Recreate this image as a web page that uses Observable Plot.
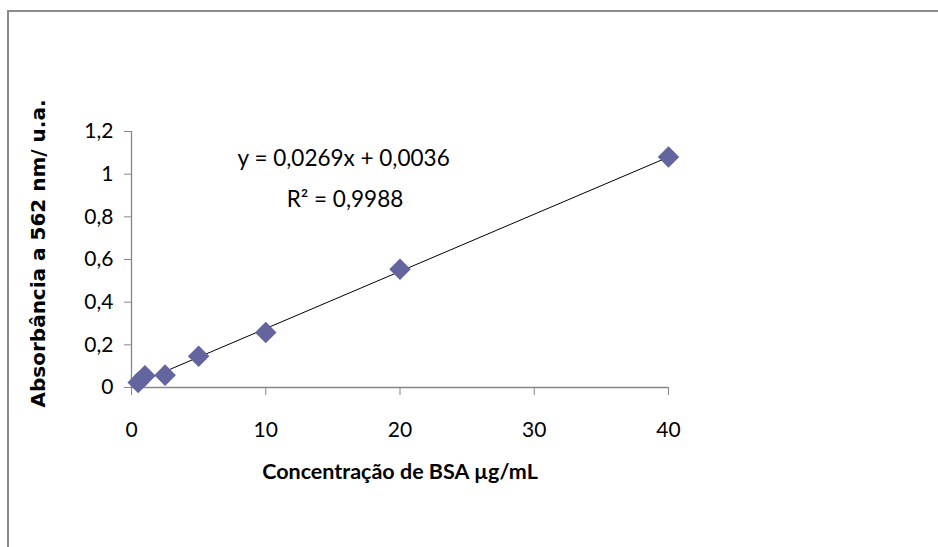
<!DOCTYPE html>
<html>
<head>
<meta charset="utf-8">
<script src="https://cdn.jsdelivr.net/npm/d3@7"></script>
<script src="https://cdn.jsdelivr.net/npm/@observablehq/plot@0.6"></script>
<style>
  html, body { margin: 0; padding: 0; background: #fff; }
  #wrap { position: relative; width: 938px; height: 547px; overflow: hidden; }
  #border { position: absolute; left: 7px; top: 10px; right: -5px; bottom: -5px;
            border-top: 2px solid #8c8c8c; border-left: 2px solid #8c8c8c; }
  #chart { position: absolute; left: 0; top: 0; }
</style>
</head>
<body>
<div id="wrap"><div id="border"></div><div id="chart"></div></div>
<script>
// Concentração de BSA (µg/mL)
const concentrations = [0.5, 1, 2.5, 5, 10, 20, 40];
// Absorbância a 562 nm (u.a.)
const absorbances = [0.024, 0.055, 0.058, 0.146, 0.258, 0.554, 1.08];
const xTicks = [0, 10, 20, 30, 40];
const yTicks = [0, 0.2, 0.4, 0.6, 0.8, 1, 1.2];
const equationText = "y = 0,0269x + 0,0036";
const r2Text = "R² = 0,9988";
const xTitle = "Concentração de BSA µg/mL";
const yTitle = "Absorbância a 562 nm/ u.a.";

const data = concentrations.map((c, i) => ({x: c, y: absorbances[i]}));
const fmt = d => String(d).replace(".", ",");
const axisColor = "#868686";
const font = "Lato, 'Open Sans', sans-serif";

const chart = Plot.plot({
  width: 938,
  height: 547,
  marginLeft: 131,
  marginRight: 270,
  marginTop: 131,
  marginBottom: 160,
  style: {fontFamily: font, fontSize: "21px", color: "#000", background: "transparent"},
  x: {domain: [0, 40]},
  y: {domain: [0, 1.2]},
  marks: [
    Plot.ruleY([0], {stroke: axisColor, strokeWidth: 1.3}),
    Plot.ruleX([0], {stroke: axisColor, strokeWidth: 1.3}),
    Plot.axisX({ticks: xTicks, tickFormat: fmt, tickSize: 8, tickPadding: 27, stroke: axisColor, label: null, fill: "#000", fontSize: 21}),
    Plot.axisY({ticks: yTicks, tickFormat: fmt, tickSize: 7, tickPadding: 11, stroke: axisColor, label: null, fill: "#000", fontSize: 21}),
    Plot.linearRegressionY(data, {x: "x", y: "y", stroke: "#000", strokeWidth: 1, ci: 0}),
    Plot.dot(data, {x: "x", y: "y", symbol: "diamond2", r: 9.7, fill: "#64659F", stroke: "none"}),
    Plot.text([equationText], {x: 15.8, y: 1.074, text: d => d, fontSize: 22.5, fill: "#000"}),
    Plot.text([r2Text], {x: 15.9, y: 0.882, text: d => d, fontSize: 22.5, fill: "#000"}),
    Plot.text([xTitle], {frameAnchor: "bottom", dy: 91, text: d => d, fontSize: 21.5, fontWeight: "bold", fill: "#000"}),
    Plot.text([yTitle], {frameAnchor: "left", textAnchor: "middle", dx: -93, dy: -6, rotate: -90, text: d => d, fontFamily: "'DejaVu Sans', sans-serif", fontSize: 20, fontWeight: "bold", fill: "#000"})
  ]
});
document.getElementById("chart").appendChild(chart);
</script>
</body>
</html>
